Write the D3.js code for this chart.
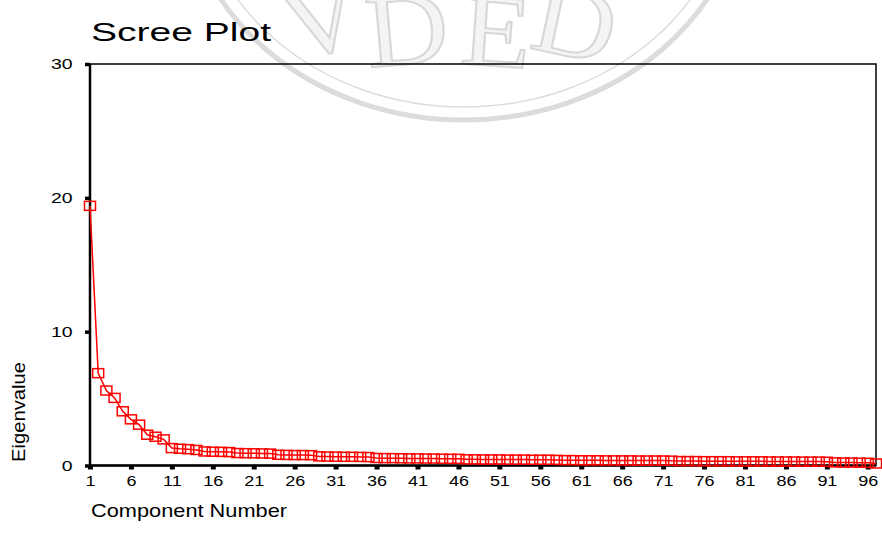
<html lang="en">
	<head>
		<meta charset="UTF-8">
		<title>Scree Plot</title>
		<style>
			body {
				margin: 0;
				background-color: #ffffff;
				font-family: "Liberation Sans", Arial, sans-serif;
			}
			.axis text {
				font-family: "Liberation Sans", Arial, sans-serif;
				font-size: 15px;
				fill: #000;
			}
			.axis line {
				stroke: #000;
			}
			.axis path {
				display: none;
			}
		</style>
		<script src="https://d3js.org/d3.v7.min.js"></script>
	</head>
	<body>
		<div id="chart"></div>
		<script>
			// eigenvalues, component 1..97
			var eigenvalues = [
				19.4, 6.9, 5.6, 5.05, 4.05, 3.45, 3.05, 2.3, 2.15, 1.95,
				1.3, 1.25, 1.22, 1.16, 1.05, 1.03, 1.02, 1.0, 0.93, 0.92,
				0.91, 0.9, 0.89, 0.8, 0.79, 0.78, 0.78, 0.77, 0.68, 0.67,
				0.66, 0.65, 0.65, 0.64, 0.63, 0.56, 0.55, 0.55, 0.54, 0.53,
				0.53, 0.52, 0.52, 0.51, 0.5, 0.5, 0.46, 0.46, 0.45, 0.45,
				0.45, 0.44, 0.44, 0.44, 0.43, 0.43, 0.43, 0.42, 0.4, 0.4,
				0.39, 0.39, 0.39, 0.38, 0.38, 0.38, 0.38, 0.37, 0.37, 0.37,
				0.37, 0.36, 0.33, 0.33, 0.33, 0.32, 0.32, 0.32, 0.32, 0.31,
				0.31, 0.31, 0.31, 0.3, 0.3, 0.3, 0.3, 0.29, 0.29, 0.29,
				0.28, 0.23, 0.22, 0.22, 0.21, 0.2, 0.15
			];
			var components = eigenvalues.map((d, i) => i + 1);
			var xTicks = d3.range(1, 97, 5);
			var yTicks = [0, 10, 20, 30];
			var title = "Scree Plot";
			var xTitle = "Component Number";
			var yTitle = "Eigenvalue";

			var width = 882, height = 544;
			var plot = { left: 90, right: 876, top: 64, bottom: 465.5 };

			var svg = d3.select("#chart").append("svg")
				.attr("width", width)
				.attr("height", height);

			// faint watermark behind the chart
			var wm = svg.append("g").attr("fill", "none").attr("stroke", "#dcdcdc");
			wm.append("ellipse")
				.attr("cx", 464).attr("cy", -125)
				.attr("rx", 282).attr("ry", 245)
				.attr("stroke-width", 5);
			wm.append("ellipse")
				.attr("cx", 464).attr("cy", -125)
				.attr("rx", 268).attr("ry", 232)
				.attr("stroke-width", 1.5);
			var letters = [["V", 330, 52, -14], ["D", 410, 64, -5], ["E", 494, 66, 4], ["D", 568, 56, 12]];
			svg.append("g")
				.selectAll("text")
				.data(letters)
				.join("text")
				.attr("transform", d => "translate(" + d[1] + "," + d[2] + ") rotate(" + d[3] + ") scale(1.1,1)")
				.attr("text-anchor", "middle")
				.attr("font-family", "Liberation Serif, serif")
				.attr("font-size", 104)
				.attr("fill", "#f4f4f4")
				.attr("stroke", "#d8d8d8")
				.attr("stroke-width", 2)
				.text(d => d[0]);

			var x = d3.scaleLinear()
				.domain([1, 97])
				.range([plot.left, plot.right]);

			var y = d3.scaleLinear()
				.domain([0, 30])
				.range([plot.bottom, plot.top]);

			// frame
			svg.append("rect")
				.attr("x", plot.left).attr("y", plot.top)
				.attr("width", plot.right - plot.left).attr("height", plot.bottom - plot.top)
				.attr("fill", "none")
				.attr("stroke", "#000")
				.attr("stroke-width", 1.5);

			var xAxis = d3.axisBottom(x)
				.tickValues(xTicks)
				.tickSize(4)
				.tickPadding(6)
				.tickFormat(d3.format("d"));

			var yAxis = d3.axisLeft(y)
				.tickValues(yTicks)
				.tickSize(5)
				.tickPadding(8)
				.tickFormat(d3.format("d"));

			var gx = svg.append("g")
				.attr("class", "x axis")
				.attr("transform", "translate(0," + plot.bottom + ")")
				.call(xAxis);
			gx.selectAll("line").attr("stroke-width", 5);
			gx.selectAll("text").attr("transform", "scale(1.2,1)");

			var gy = svg.append("g")
				.attr("class", "y axis")
				.attr("transform", "translate(" + plot.left + ",0)")
				.call(yAxis);
			gy.selectAll("line").attr("stroke-width", 3.5);
			gy.selectAll("text").attr("x", -11).attr("transform", "translate(-3,0) scale(1.3,1)");

			// heavier left and bottom axis lines
			svg.append("line")
				.attr("x1", plot.left).attr("x2", plot.left)
				.attr("y1", plot.top).attr("y2", plot.bottom + 1)
				.attr("stroke", "#000").attr("stroke-width", 2.5);
			svg.append("line")
				.attr("x1", plot.left).attr("x2", plot.right)
				.attr("y1", plot.bottom).attr("y2", plot.bottom)
				.attr("stroke", "#000").attr("stroke-width", 2.5);

			var line = d3.line()
				.x((d, i) => x(components[i]))
				.y(d => y(d));

			svg.append("path")
				.datum(eigenvalues)
				.attr("fill", "none")
				.attr("stroke", "#ff0000")
				.attr("stroke-width", 1.5)
				.attr("d", line);

			svg.append("g")
				.selectAll("rect")
				.data(eigenvalues)
				.join("rect")
				.attr("x", (d, i) => x(components[i]) - 5.5)
				.attr("y", d => y(d) - 4.5)
				.attr("width", 11)
				.attr("height", 9)
				.attr("fill", "none")
				.attr("stroke", "#ff0000")
				.attr("stroke-width", 1.5);

			// titles
			svg.append("text")
				.attr("x", 91).attr("y", 41)
				.attr("font-size", 26)
				.attr("textLength", 180)
				.attr("lengthAdjust", "spacingAndGlyphs")
				.text(title);

			svg.append("text")
				.attr("x", 91).attr("y", 517)
				.attr("font-size", 19)
				.attr("textLength", 196)
				.attr("lengthAdjust", "spacingAndGlyphs")
				.text(xTitle);

			svg.append("text")
				.attr("transform", "translate(25,412) rotate(-90)")
				.attr("text-anchor", "middle")
				.attr("font-size", 19)
				.attr("textLength", 100)
				.attr("lengthAdjust", "spacingAndGlyphs")
				.text(yTitle);
		</script>
	</body>
</html>
